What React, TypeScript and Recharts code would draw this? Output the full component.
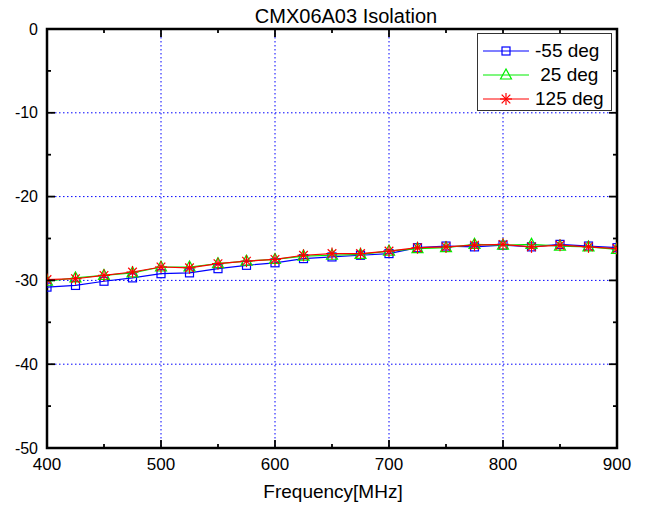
import React from 'react';
import { LineChart, Line, XAxis, YAxis, CartesianGrid, ReferenceArea } from 'recharts';

// frequency points (MHz) where the markers sit
const freqs = [400, 425, 450, 475, 500, 525, 550, 575, 600, 625, 650, 675, 700, 725, 750, 775, 800, 825, 850, 875, 900];

// isolation in dB
const minus55 = [-30.8, -30.6, -30.1, -29.7, -29.2, -29.1, -28.6, -28.2, -27.9, -27.4, -27.2, -27.0, -26.8, -26.1, -25.9, -26.0, -25.8, -26.0, -25.7, -25.9, -26.1];
const plus25 = [-30.1, -29.7, -29.4, -29.1, -28.4, -28.4, -28.0, -27.7, -27.5, -27.1, -27.0, -26.9, -26.5, -26.2, -26.1, -25.7, -25.8, -25.7, -25.9, -26.0, -26.3];
const plus125 = [-29.9, -29.8, -29.4, -29.0, -28.4, -28.5, -28.0, -27.7, -27.5, -27.0, -26.8, -26.8, -26.5, -26.1, -26.0, -25.8, -25.7, -26.0, -25.8, -26.0, -26.2];

const xTicks = [400, 450, 500, 550, 600, 650, 700, 750, 800, 850, 900];
const yTicks = [-50, -45, -40, -35, -30, -25, -20, -15, -10, -5, 0];
const xGrid = [500, 600, 700, 800];
const yGrid = [-40, -30, -20, -10];

const seriesNames = ['-55 deg', ' 25 deg', '125 deg'];

const FONT = '"Liberation Sans", Arial, sans-serif';
const BLUE = '#0000ff';
const GREEN = '#00ee00';
const RED = '#ff0000';

const data = freqs.map((f, i) => ({ f, m55: minus55[i], p25: plus25[i], p125: plus125[i] }));

const SquareMark = ({ cx, cy, color }: any) => (
    <rect x={cx - 4} y={cy - 4} width={8} height={8} fill="none" stroke={color} strokeWidth={1.2} />
);
const TriangleMark = ({ cx, cy, color }: any) => (
    <polygon points={`${cx},${cy - 6} ${cx - 5.5},${cy + 4} ${cx + 5.5},${cy + 4}`} fill="none" stroke={color} strokeWidth={1.2} />
);
const StarMark = ({ cx, cy, color }: any) => (
    <g stroke={color} strokeWidth={1.2}>
        <line x1={cx} x2={cx} y1={cy - 6} y2={cy + 6} />
        <line x1={cx - 6} x2={cx + 6} y1={cy} y2={cy} />
        <line x1={cx - 4.3} x2={cx + 4.3} y1={cy - 4.3} y2={cy + 4.3} />
        <line x1={cx - 4.3} x2={cx + 4.3} y1={cy + 4.3} y2={cy - 4.3} />
    </g>
);

const dotFn = (Mark: any, color: string) => (p: any) => {
    if (p.cx == null || p.cy == null) return <g key={p.key} />;
    return <g key={p.key}><Mark cx={p.cx} cy={p.cy} color={color} /></g>;
};

// ticks point inward, like the original plot
const BottomTick = ({ x, y, payload }: any) => {
    const major = payload.value % 100 === 0;
    return (
        <g>
            <path d={`M${x},${y}V${y - (major ? 8 : 4)}`} stroke="#000" strokeWidth={1.8} fill="none" />
            {major && (
                <text x={x} y={y + 22} textAnchor="middle" fontSize={17} fontFamily={FONT} fill="#000">{payload.value}</text>
            )}
        </g>
    );
};
const TopTick = ({ x, y, payload }: any) => {
    const major = payload.value % 100 === 0;
    return <path d={`M${x},${y}V${y + (major ? 8 : 4)}`} stroke="#000" strokeWidth={1.8} fill="none" />;
};
const LeftTick = ({ x, y, payload }: any) => {
    const major = payload.value % 10 === 0;
    return (
        <g>
            <path d={`M${x},${y}H${x + (major ? 8 : 4)}`} stroke="#000" strokeWidth={1.8} fill="none" />
            {major && (
                <text x={x - 9} y={y} dy="0.35em" textAnchor="end" fontSize={16} fontFamily={FONT} fill="#000">{payload.value}</text>
            )}
        </g>
    );
};
const RightTick = ({ x, y, payload }: any) => {
    const major = payload.value % 10 === 0;
    return <path d={`M${x},${y}H${x - (major ? 8 : 4)}`} stroke="#000" strokeWidth={1.8} fill="none" />;
};

const legendMarks = [SquareMark, TriangleMark, StarMark];
const legendColors = [BLUE, GREEN, RED];

// plot frame drawn from the axis scales
const Frame = (props: any) => {
    const { x, y, width, height } = props;
    return <rect x={x} y={y} width={width} height={height} fill="none" stroke="#000" strokeWidth={2.5} />;
};

const App: React.FC = () => {
    return (
        <div style={{ position: 'absolute', left: 0, top: 0, width: 651, height: 508, background: '#fff', fontFamily: FONT }}>
            <div style={{ position: 'absolute', left: 0, width: 692, top: 6, textAlign: 'center', fontSize: 20, lineHeight: '20px', color: '#000' }}>
                CMX06A03 Isolation
            </div>
            <LineChart width={651} height={508} data={data} margin={{ top: 28, right: 33, bottom: 59, left: 46 }}>
                <CartesianGrid
                    stroke={BLUE}
                    strokeDasharray="1.5 2.5"
                    horizontalValues={yGrid}
                    verticalValues={xGrid}
                />
                <XAxis
                    dataKey="f"
                    type="number"
                    domain={[400, 900]}
                    allowDataOverflow
                    ticks={xTicks}
                    interval={0}
                    height={1}
                    tickSize={0}
                    tickMargin={0}
                    tickLine={false}
                    tick={<BottomTick />}
                    axisLine={false}
                />
                <XAxis
                    xAxisId="top"
                    orientation="top"
                    dataKey="f"
                    type="number"
                    domain={[400, 900]}
                    allowDataOverflow
                    ticks={xTicks}
                    interval={0}
                    height={1}
                    tickSize={0}
                    tickMargin={0}
                    tickLine={false}
                    tick={<TopTick />}
                    axisLine={false}
                />
                <YAxis
                    type="number"
                    domain={[-50, 0]}
                    allowDataOverflow
                    ticks={yTicks}
                    interval={0}
                    width={1}
                    tickSize={0}
                    tickMargin={0}
                    tickLine={false}
                    tick={<LeftTick />}
                    axisLine={false}
                />
                <YAxis
                    yAxisId="right"
                    orientation="right"
                    type="number"
                    domain={[-50, 0]}
                    allowDataOverflow
                    ticks={yTicks}
                    interval={0}
                    width={1}
                    tickSize={0}
                    tickMargin={0}
                    tickLine={false}
                    tick={<RightTick />}
                    axisLine={false}
                />
                <Line type="linear" dataKey="m55" name={seriesNames[0]} stroke={BLUE} strokeWidth={1.2} dot={dotFn(SquareMark, BLUE)} activeDot={false} isAnimationActive={false} />
                <Line type="linear" dataKey="p25" name={seriesNames[1]} stroke={GREEN} strokeWidth={1.2} dot={dotFn(TriangleMark, GREEN)} activeDot={false} isAnimationActive={false} />
                <Line type="linear" dataKey="p125" name={seriesNames[2]} stroke={RED} strokeWidth={1.2} dot={dotFn(StarMark, RED)} activeDot={false} isAnimationActive={false} />
                <ReferenceArea x1={400} x2={900} y1={-50} y2={0} ifOverflow="visible" shape={<Frame />} />
            </LineChart>
            <div style={{ position: 'absolute', left: 477, top: 33, width: 133, height: 76, border: '1.5px solid #333', background: '#fff' }}>
                {seriesNames.map((name, i) => {
                    const Mark = legendMarks[i];
                    return (
                        <div key={name} style={{ position: 'absolute', left: 0, top: 5 + i * 24, height: 24, display: 'flex', alignItems: 'center' }}>
                            <svg width={56} height={24} style={{ display: 'block' }}>
                                <line x1={5} x2={51} y1={12} y2={12} stroke={legendColors[i]} strokeWidth={1.2} />
                                <Mark cx={28} cy={12} color={legendColors[i]} />
                            </svg>
                            <span style={{ fontSize: 19, whiteSpace: 'pre', color: '#000', marginLeft: 1 }}>{name}</span>
                        </div>
                    );
                })}
            </div>
            <div style={{ position: 'absolute', left: 0, width: 666, top: 482, textAlign: 'center', fontSize: 19, lineHeight: '19px', color: '#000' }}>
                Frequency[MHz]
            </div>
        </div>
    );
};

export default App;
